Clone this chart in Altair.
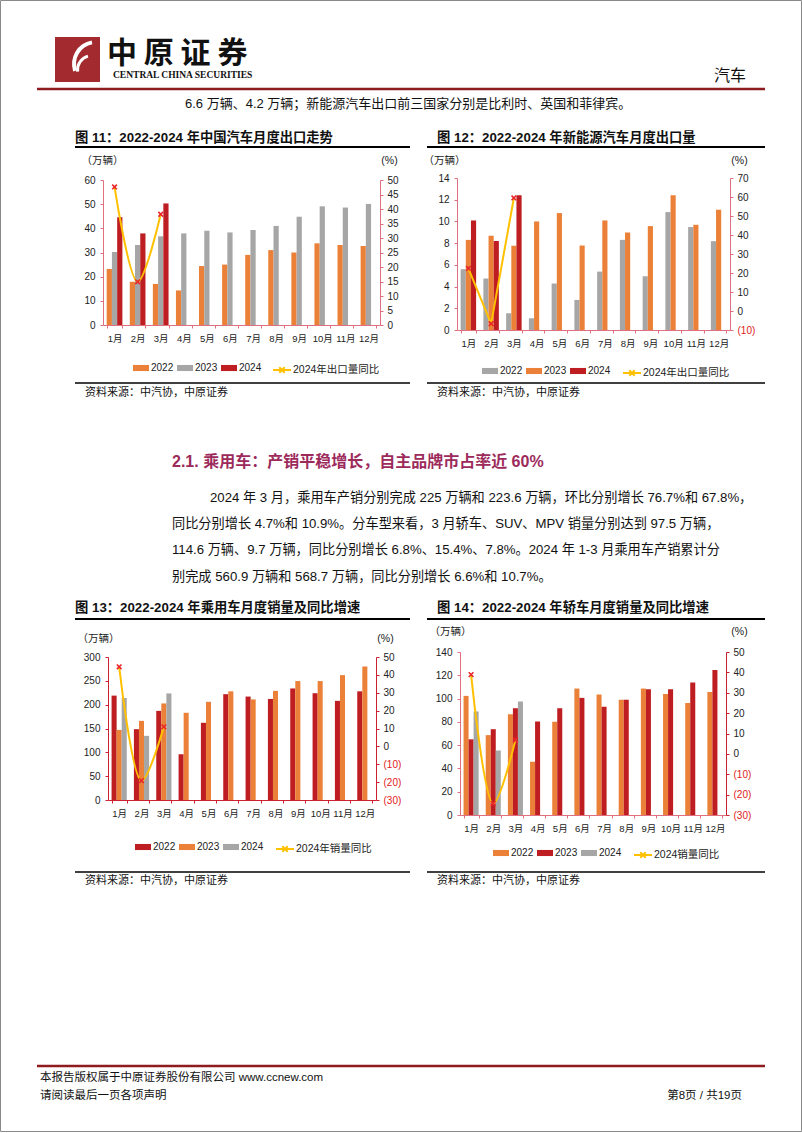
import altair as alt
import pandas as pd

W, H = 802, 1133
CJK = "Noto Sans CJK SC"
MIX = "Liberation Sans, Noto Sans CJK SC"

months = ["1月", "2月", "3月", "4月", "5月", "6月", "7月", "8月", "9月", "10月", "11月", "12月"]
years = ["2022", "2023", "2024"]

# ---- Chart 11: China auto exports (万辆) ----
c11_2022 = [23.2, 17.9, 17.0, 14.3, 24.4, 25.0, 29.0, 31.0, 30.0, 33.8, 33.1, 32.7]
c11_2023 = [30.2, 33.1, 36.7, 37.9, 39.0, 38.3, 39.3, 41.0, 44.8, 49.1, 48.6, 50.1]
c11_2024 = [44.6, 37.9, 50.3]
c11_yoy = [47.6, 14.9, 38.2]

# ---- Chart 12: NEV exports (万辆) ----
c12_2022 = [5.6, 4.74, 1.54, 1.08, 4.28, 2.77, 5.38, 8.3, 4.95, 10.86, 9.48, 8.18]
c12_2023 = [8.3, 8.68, 7.75, 10.0, 10.77, 7.78, 10.09, 8.98, 9.57, 12.4, 9.69, 11.08]
c12_2024 = [10.09, 8.2, 12.4]
c12_yoy = [22.4, -6.7, 59.5]

# ---- Chart 13: passenger car sales (万辆) ----
c13_2022 = [219, 148.6, 187, 96, 162, 222, 217, 212, 234, 224, 208, 228]
c13_2023 = [147, 166, 202.6, 183, 206, 228, 211, 229, 249.5, 249.5, 262, 280]
c13_2024 = [214, 134.6, 223.6]
c13_yoy = [44.5, -19.2, 10.9]

# ---- Chart 14: sedan sales (万辆) ----
c14_2022 = [102.3, 68.6, 86.6, 45.7, 80.0, 108.6, 103.4, 99.0, 108.6, 104.0, 96.3, 105.7]
c14_2023 = [65.0, 73.7, 91.7, 80.3, 91.7, 100.6, 93.0, 99.0, 108.0, 108.0, 113.7, 124.6]
c14_2024 = [88.9, 55.4, 97.5]
c14_yoy = [38.9, -24.3, 6.8]

ORANGE = "#EB8138"
GRAY = "#A6A6A6"
DRED = "#BE1E22"
YELLOW = "#FFC000"
MARK = "#E8262B"
PINK = "#E07080"
RED_AX = "#CC2030"

one = pd.DataFrame({"k": [0]})


def bars_df(a, b, c):
    rows = []
    for yr, vals in zip(years, [a, b, c]):
        for m, v in zip(months, vals):
            rows.append({"month": m, "year": yr, "value": v})
    return pd.DataFrame(rows)


def line_df(vals, name):
    return pd.DataFrame({"month": months[:len(vals)], "yoy": vals, "series": name})


XPATH = "M-1,-1L1,1M-1,1L1,-1"
RECT_SYM = "M-1,-0.38H1V0.38H-1Z"
LINE_SYM = "M-1,0H1M-0.3,-0.3L0.3,0.3M-0.3,0.3L0.3,-0.3"


def make_chart(cfg):
    x0, x1, yb, yt = cfg["x0"], cfg["x1"], cfg["yb"], cfg["yt"]
    xscale = alt.Scale(domain=months, range=[x0, x1], paddingInner=0.32, paddingOuter=0.16)
    xaxis = alt.Axis(orient="bottom", offset=yb - H, title=None, labelFont=MIX, labelFontSize=9.5,
                     labelColor="#222", domainColor=cfg["xcol"], tickColor=cfg["xcol"], tickSize=3,
                     tickBand="extent", labelPadding=5, labelAngle=0, zindex=1)
    x_enc = alt.X("month:N", sort=months, scale=xscale, axis=xaxis)
    lax = alt.Axis(orient="left", offset=-x0, title="（万辆）", titleAngle=0, titleX=cfg["ltx"],
                   titleY=cfg["uy"], titleFont=CJK, titleFontSize=10.5,
                   titleFontWeight="normal", titleColor="#222", titleAlign="center", titleBaseline="middle",
                   values=cfg["lvals"], labelFont=MIX, labelFontSize=10, labelColor="#222",
                   domainColor=cfg["lcol"], tickColor=cfg["lcol"], tickSize=3, labelPadding=5, grid=False,
                   zindex=1)
    rax = alt.Axis(orient="right", offset=x1 - W, title="(%)", titleAngle=0, titleX=cfg["rtx"],
                   titleY=cfg["uy"], titleFont=MIX, titleFontSize=10.5, titleFontWeight="normal",
                   titleColor="#222", titleAlign="center", titleBaseline="middle",
                   values=cfg["rvals"], labelFont=MIX, labelFontSize=10,
                   labelExpr="datum.value < 0 ? '(' + abs(datum.value) + ')' : datum.label",
                   labelColor={"condition": {"test": "datum.value < 0", "value": "#E02020"}, "value": "#222"},
                   domainColor=cfg["rcol"], tickColor=cfg["rcol"], tickSize=3, labelPadding=4, grid=False,
                   zindex=1)
    lscale = alt.Scale(domain=[0, cfg["lvals"][-1]], range=[yb, yt], nice=False, zero=True)
    rscale = alt.Scale(domain=[cfg["rvals"][0], cfg["rvals"][-1]], range=[yb, yt], nice=False, zero=False)

    bars = alt.Chart(cfg["bars"]).mark_bar().encode(
        x=x_enc,
        xOffset=alt.XOffset("year:N", sort=years, scale=alt.Scale(domain=years, paddingInner=0.0)),
        y=alt.Y("value:Q", scale=lscale, axis=lax),
        color=alt.Color("year:N", sort=years, scale=alt.Scale(domain=years, range=cfg["colors"]),
                        legend=alt.Legend(orient="none", legendX=cfg["lgx"], legendY=cfg["lgy"],
                                          direction="horizontal", title=None, symbolType=RECT_SYM,
                                          symbolSize=256, symbolStrokeWidth=0, labelFont=MIX,
                                          labelFontSize=10, labelColor="#222", columnPadding=3,
                                          labelOffset=2, padding=0)),
    )
    lname = cfg["lname"]
    line = alt.Chart(cfg["line"]).mark_line(interpolate=cfg["interp"], strokeWidth=2).encode(
        x=x_enc,
        y=alt.Y("yoy:Q", scale=rscale, axis=rax),
        stroke=alt.Stroke("series:N", scale=alt.Scale(domain=[lname], range=[YELLOW]),
                          legend=alt.Legend(orient="none", legendX=cfg["lgx2"], legendY=cfg["lgy"],
                                            direction="horizontal", title=None, symbolType=LINE_SYM,
                                            symbolSize=324, symbolStrokeWidth=2, labelFont=MIX,
                                            labelFontSize=10.5, labelColor="#222", labelOffset=1,
                                            padding=0)),
    )
    pts = alt.Chart(cfg["line"]).mark_point(shape=XPATH, size=22, filled=False, strokeWidth=1.6,
                                           color=MARK, opacity=1).encode(
        x=x_enc,
        y=alt.Y("yoy:Q", scale=rscale, axis=rax),
    )
    return alt.layer(bars, alt.layer(line, pts)).resolve_scale(y="independent")


charts = [
    make_chart(dict(x0=103, x1=380, yb=325, yt=180, lvals=list(range(0, 61, 10)),
                    rvals=list(range(0, 51, 5)), bars=bars_df(c11_2022, c11_2023, c11_2024),
                    line=line_df(c11_yoy, "2024年出口量同比"), lname="2024年出口量同比",
                    colors=[ORANGE, GRAY, DRED], interp="catmull-rom", lgx=133, lgx2=272, lgy=360,
                    uy=160, ltx=-1, rtx=9, xcol=PINK, lcol=PINK, rcol=PINK)),
    make_chart(dict(x0=457, x1=730, yb=330, yt=178, lvals=list(range(0, 15, 2)),
                    rvals=list(range(-10, 71, 10)), bars=bars_df(c12_2022, c12_2023, c12_2024),
                    line=line_df(c12_yoy, "2024年出口量同比"), lname="2024年出口量同比",
                    colors=[GRAY, ORANGE, DRED], interp="linear", lgx=482, lgx2=622, lgy=363,
                    uy=160, ltx=-13, rtx=9, xcol=PINK, lcol=PINK, rcol=PINK)),
    make_chart(dict(x0=108, x1=376, yb=800, yt=657, lvals=list(range(0, 301, 50)),
                    rvals=list(range(-30, 51, 10)), bars=bars_df(c13_2022, c13_2023, c13_2024),
                    line=line_df(c13_yoy, "2024年销量同比"), lname="2024年销量同比",
                    colors=[DRED, ORANGE, GRAY], interp="catmull-rom", lgx=135, lgx2=275, lgy=839,
                    uy=638, ltx=-10, rtx=9, xcol=RED_AX, lcol=RED_AX, rcol=RED_AX)),
    make_chart(dict(x0=460, x1=726, yb=815, yt=652, lvals=list(range(0, 141, 20)),
                    rvals=list(range(-30, 51, 10)), bars=bars_df(c14_2022, c14_2023, c14_2024),
                    line=line_df(c14_yoy, "2024销量同比"), lname="2024销量同比",
                    colors=[ORANGE, DRED, GRAY], interp="catmull-rom", lgx=493, lgx2=633, lgy=845,
                    uy=631, ltx=-10, rtx=13, xcol=PINK, lcol=PINK, rcol=RED_AX)),
]


def txt(s, x, y, size=14, weight="normal", color="#111", align="left", font=MIX, baseline="middle"):
    return alt.Chart(one).mark_text(text=s, fontSize=size, fontWeight=weight, color=color, align=align,
                                    baseline=baseline, font=font).encode(x=alt.value(x), y=alt.value(y))


def hline(x0, x1, y, color="#000", width=1.5):
    return alt.Chart(one).mark_rule(color=color, strokeWidth=width).encode(
        x=alt.value(x0), x2=alt.value(x1), y=alt.value(y))


def rect(x0, x1, y0, y1, fill, stroke=None, sw=0):
    kw = dict(color=fill)
    if stroke is not None:
        kw = dict(fill=fill, fillOpacity=0, stroke=stroke, strokeWidth=sw)
    return alt.Chart(one).mark_rect(**kw).encode(x=alt.value(x0), x2=alt.value(x1),
                                                 y=alt.value(y0), y2=alt.value(y1))


decor = [
    rect(0.5, W - 0.5, 0.5, H - 1.5, "white", "#8a8a8a", 1),
    # logo
    rect(55, 100, 37, 82, "#A32A2F"),
    alt.Chart(one).mark_arc(color="white", innerRadius=20, outerRadius=24, theta=4.4, theta2=6.1).encode(
        x=alt.value(96), y=alt.value(64)),
    alt.Chart(one).mark_arc(color="white", innerRadius=13, outerRadius=16, theta=4.6, theta2=6.0).encode(
        x=alt.value(92), y=alt.value(70)),
    txt("中 原 证 券", 107, 54, size=30, weight="bold", font=CJK),
    txt("CENTRAL CHINA SECURITIES", 113, 75, size=9.5, weight="bold", font="Liberation Serif"),
    txt("汽车", 746, 76, size=16, align="right", font=CJK),
    hline(37, 765, 89, color="#8E1B1F", width=2.5),
    txt("6.6 万辆、4.2 万辆；新能源汽车出口前三国家分别是比利时、英国和菲律宾。", 185, 104, size=13),
    # chart titles and rules
    txt("图 11：2022-2024 年中国汽车月度出口走势", 75, 138, size=13.3, weight="bold"),
    txt("图 12：2022-2024 年新能源汽车月度出口量", 437, 138, size=13.3, weight="bold"),
    hline(75, 410, 147, width=2),
    hline(427, 765, 147, width=2),
    hline(75, 410, 383, width=1.5),
    hline(427, 765, 383, width=1.5),
    txt("资料来源：中汽协，中原证券", 85, 393, size=11),
    txt("资料来源：中汽协，中原证券", 437, 393, size=11),
    # section
    txt("2.1. 乘用车：产销平稳增长，自主品牌市占率近 60%", 172, 462, size=16, color="#9C2A5B", weight="bold"),
    txt("2024 年 3 月，乘用车产销分别完成 225 万辆和 223.6 万辆，环比分别增长 76.7%和 67.8%，", 210, 498, size=13.2),
    txt("同比分别增长 4.7%和 10.9%。分车型来看，3 月轿车、SUV、MPV 销量分别达到 97.5 万辆，", 172, 524, size=13.2),
    txt("114.6 万辆、9.7 万辆，同比分别增长 6.8%、15.4%、7.8%。2024 年 1-3 月乘用车产销累计分", 172, 550, size=13.2),
    txt("别完成 560.9 万辆和 568.7 万辆，同比分别增长 6.6%和 10.7%。", 172, 577, size=13.2),
    txt("图 13：2022-2024 年乘用车月度销量及同比增速", 75, 608, size=13.3, weight="bold"),
    txt("图 14：2022-2024 年轿车月度销量及同比增速", 437, 608, size=13.3, weight="bold"),
    hline(75, 410, 619, width=2),
    hline(427, 765, 619, width=2),
    hline(75, 410, 872, width=1.5),
    hline(427, 765, 872, width=1.5),
    txt("资料来源：中汽协，中原证券", 85, 881, size=11),
    txt("资料来源：中汽协，中原证券", 437, 881, size=11),
    # footer
    hline(37, 765, 1066, color="#8E1B1F", width=2.5),
    txt("本报告版权属于中原证券股份有限公司  www.ccnew.com", 40, 1078, size=11.5),
    txt("请阅读最后一页各项声明", 40, 1096, size=11.5),
    txt("第8页 / 共19页", 742, 1096, size=11.5, align="right"),
]

chart = alt.layer(*decor, *charts).resolve_scale(
    x="independent", y="independent", color="independent", stroke="independent", xOffset="independent"
).properties(
    width=W, height=H, padding=0, autosize=alt.AutoSizeParams(type="none"), background="white"
).configure_view(stroke=None)

chart.save("out.html", embed_options={"renderer": "svg", "actions": False})
